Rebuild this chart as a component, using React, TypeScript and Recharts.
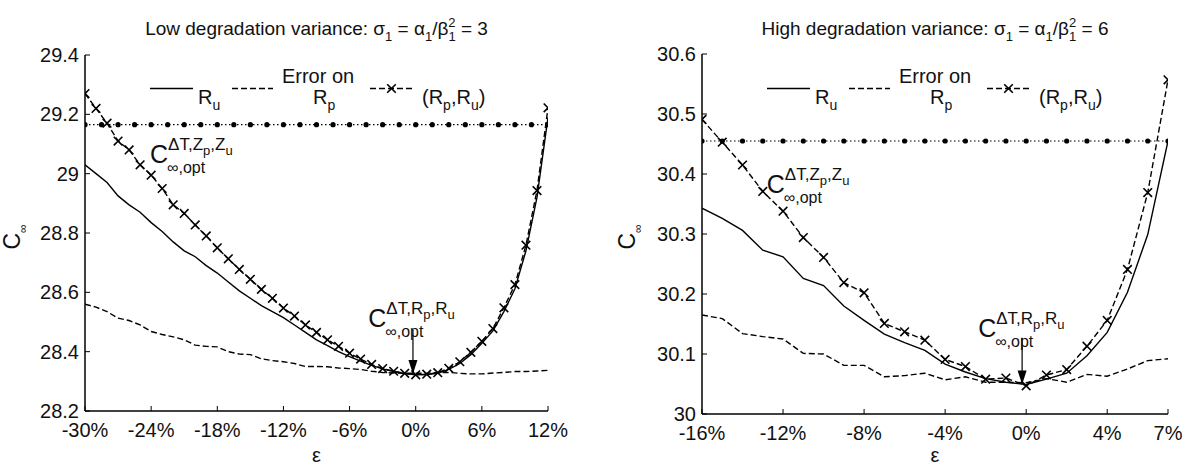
import React from "react";
import { LineChart, Line, XAxis, YAxis, ReferenceLine, ReferenceDot } from "recharts";

const FONT = '"Liberation Sans", Arial, Helvetica, sans-serif';
const INK = "#000";
const TICK_LEN = 5;
const GAP = 8; // tickMargin used by every axis; custom ticks undo it to find the axis line

// ε grid (%) and C∞ values, σ1 = 3
const LOW_EPS = [-30, -29, -28, -27, -26, -25, -24, -23, -22, -21, -20, -19, -18, -17, -16, -15, -14, -13, -12, -11, -10, -9, -8, -7, -6, -5, -4, -3, -2, -1, 0, 1, 2, 3, 4, 5, 6, 7, 8, 9, 10, 11, 12];
const LOW_RU = [29.03, 29.0, 28.97, 28.925, 28.895, 28.87, 28.835, 28.805, 28.77, 28.74, 28.72, 28.69, 28.665, 28.635, 28.605, 28.58, 28.555, 28.535, 28.515, 28.49, 28.465, 28.44, 28.42, 28.4, 28.383, 28.368, 28.354, 28.342, 28.333, 28.326, 28.322, 28.323, 28.327, 28.34, 28.36, 28.39, 28.428, 28.47, 28.535, 28.612, 28.74, 28.92, 29.19];
const LOW_RP = [28.56, 28.55, 28.535, 28.513, 28.505, 28.49, 28.468, 28.458, 28.45, 28.44, 28.422, 28.418, 28.416, 28.4, 28.392, 28.39, 28.376, 28.37, 28.366, 28.36, 28.35, 28.35, 28.349, 28.345, 28.343, 28.34, 28.334, 28.33, 28.328, 28.327, 28.327, 28.327, 28.33, 28.33, 28.327, 28.325, 28.325, 28.328, 28.33, 28.333, 28.333, 28.335, 28.337];
const LOW_BOTH = [29.27, 29.22, 29.17, 29.11, 29.08, 29.03, 28.995, 28.95, 28.895, 28.866, 28.827, 28.79, 28.75, 28.713, 28.677, 28.644, 28.61, 28.58, 28.547, 28.52, 28.49, 28.465, 28.44, 28.418, 28.395, 28.375, 28.357, 28.343, 28.334, 28.327, 28.322, 28.324, 28.329, 28.344, 28.366, 28.398, 28.435, 28.478, 28.548, 28.626, 28.759, 28.943, 29.222];
const LOW_REF_EPS = [-30, -28.5, -27, -25.5, -24, -22.5, -21, -19.5, -18, -16.5, -15, -13.5, -12, -10.5, -9, -7.5, -6, -4.5, -3, -1.5, 0, 1.5, 3, 4.5, 6, 7.5, 9, 10.5, 12];
const LOW_REF = 29.165;
const LOW_X_TICKS = [-30, -24, -18, -12, -6, 0, 6, 12];
const LOW_Y_TICKS = [28.2, 28.4, 28.6, 28.8, 29, 29.2, 29.4];

// ε grid (%) and C∞ values, σ1 = 6
const HIGH_EPS = [-16, -15, -14, -13, -12, -11, -10, -9, -8, -7, -6, -5, -4, -3, -2, -1, 0, 1, 2, 3, 4, 5, 6, 7];
const HIGH_RU = [30.343, 30.326, 30.306, 30.273, 30.262, 30.226, 30.214, 30.18, 30.156, 30.133, 30.119, 30.106, 30.083, 30.07, 30.059, 30.053, 30.049, 30.058, 30.068, 30.097, 30.136, 30.203, 30.299, 30.455];
const HIGH_RP = [30.165, 30.159, 30.134, 30.129, 30.125, 30.101, 30.1, 30.081, 30.081, 30.062, 30.064, 30.068, 30.057, 30.062, 30.053, 30.053, 30.052, 30.059, 30.053, 30.066, 30.063, 30.075, 30.089, 30.092];
const HIGH_BOTH = [30.491, 30.453, 30.415, 30.371, 30.338, 30.294, 30.261, 30.219, 30.202, 30.151, 30.137, 30.123, 30.091, 30.079, 30.058, 30.06, 30.047, 30.065, 30.074, 30.113, 30.156, 30.241, 30.369, 30.557];
const HIGH_REF_EPS = HIGH_EPS;
const HIGH_REF = 30.455;
const HIGH_X_TICKS = [-16, -12, -8, -4, 0, 4, 7];
const HIGH_Y_TICKS = [30, 30.1, 30.2, 30.3, 30.4, 30.5, 30.6];

type Pt = { x: number; y: number };
const zip = (xs: number[], ys: number[]): Pt[] => xs.map((x, i) => ({ x, y: ys[i] }));
const flat = (xs: number[], y: number): Pt[] => xs.map((x) => ({ x, y }));

const fmtY = (v: number) => String(Number(v.toFixed(1)));
const fmtX = (v: number) => `${v}%`;

function BottomTick(p: any) {
  const axisY = p.y - GAP;
  return (
    <g>
      <line x1={p.x} x2={p.x} y1={axisY} y2={axisY - TICK_LEN} stroke={INK} strokeWidth={1} />
      <text x={p.x} y={axisY + 26} textAnchor="middle" fontSize={20} fontFamily={FONT} fill="#111">
        {fmtX(p.payload.value)}
      </text>
    </g>
  );
}

function TopTick(p: any) {
  const axisY = p.y + GAP;
  return <line x1={p.x} x2={p.x} y1={axisY} y2={axisY + TICK_LEN} stroke={INK} strokeWidth={1} />;
}

function LeftTick(p: any) {
  const axisX = p.x + GAP;
  return (
    <g>
      <line x1={axisX} x2={axisX + TICK_LEN} y1={p.y} y2={p.y} stroke={INK} strokeWidth={1} />
      <text x={axisX - 6} y={p.y + 7} textAnchor="end" fontSize={20} fontFamily={FONT} fill="#111">
        {fmtY(p.payload.value)}
      </text>
    </g>
  );
}

function RightTick(p: any) {
  const axisX = p.x - GAP;
  return <line x1={axisX} x2={axisX - TICK_LEN} y1={p.y} y2={p.y} stroke={INK} strokeWidth={1} />;
}

function Cross({ cx, cy }: { cx?: number; cy?: number }) {
  if (cx == null || cy == null) return null;
  const s = 4.3;
  return (
    <path
      d={`M${cx - s},${cy - s}L${cx + s},${cy + s}M${cx - s},${cy + s}L${cx + s},${cy - s}`}
      stroke={INK}
      strokeWidth={1.6}
      fill="none"
    />
  );
}

// C^{ΔT,X_p,X_u}_{∞,opt}, baseline-left at (cx, cy)
function OptLabel({ cx, cy, v }: { cx: number; cy: number; v: string }) {
  return (
    <g fontFamily={FONT} fill="#111">
      <text x={cx} y={cy} fontSize={25}>C</text>
      <text x={cx + 18} y={cy - 13} fontSize={17}>
        ΔT,{v}
        <tspan dy={5} fontSize={13}>p</tspan>
        <tspan dy={-5}>,{v}</tspan>
        <tspan dy={5} fontSize={13}>u</tspan>
      </text>
      <text x={cx + 17} y={cy + 10} fontSize={16}>∞,opt</text>
    </g>
  );
}

function ArrowHead({ cx, cy }: { cx?: number; cy?: number }) {
  if (cx == null || cy == null) return <g />;
  return <path d={`M${cx},${cy}L${cx - 4.5},${cy - 14}L${cx + 4.5},${cy - 14}Z`} fill={INK} />;
}

type PanelProps = {
  left: number;
  width: number;
  margin: { top: number; right: number; bottom: number; left: number };
  xDomain: [number, number];
  xTicks: number[];
  yDomain: [number, number];
  yTicks: number[];
  ru: Pt[];
  rp: Pt[];
  both: Pt[];
  ref: Pt[];
  zAt: Pt;
  rAt: Pt;
  arrow: { x: number; from: number; to: number };
};

function Panel(props: PanelProps) {
  const { xDomain, xTicks, yDomain, yTicks } = props;
  const axisLine = { stroke: INK, strokeWidth: 1.5 };
  return (
    <div style={{ position: "absolute", left: props.left, top: 0 }}>
      <LineChart width={props.width} height={469} margin={props.margin}>
        <XAxis type="number" dataKey="x" domain={xDomain} ticks={xTicks} interval={0} allowDataOverflow
          height={40} tickSize={0} tickMargin={GAP} axisLine={axisLine} tick={BottomTick} />
        <XAxis xAxisId="top" orientation="top" type="number" dataKey="x" domain={xDomain} ticks={xTicks}
          interval={0} allowDataOverflow height={0} tickSize={0} tickMargin={GAP} axisLine={axisLine} tick={TopTick} />
        <YAxis type="number" domain={yDomain} ticks={yTicks} interval={0} allowDataOverflow
          width={60} tickSize={0} tickMargin={GAP} axisLine={axisLine} tick={LeftTick} />
        <YAxis yAxisId="right" orientation="right" type="number" domain={yDomain} ticks={yTicks} interval={0}
          allowDataOverflow width={0} tickSize={0} tickMargin={GAP} axisLine={axisLine} tick={RightTick} />

        <Line data={props.ref} dataKey="y" type="linear" stroke={INK} strokeWidth={1.2}
          strokeDasharray="1.5 2.5" dot={{ r: 2.6, fill: INK, stroke: "none" }} activeDot={false}
          isAnimationActive={false} />
        <Line data={props.rp} dataKey="y" type="linear" stroke={INK} strokeWidth={1.4}
          strokeDasharray="6 3" dot={false} activeDot={false} isAnimationActive={false} />
        <Line data={props.ru} dataKey="y" type="linear" stroke={INK} strokeWidth={1.4}
          dot={false} activeDot={false} isAnimationActive={false} />
        <Line data={props.both} dataKey="y" type="linear" stroke={INK} strokeWidth={1.4}
          strokeDasharray="6 3" activeDot={false} isAnimationActive={false}
          dot={(p: any) => <Cross key={p.index} cx={p.cx} cy={p.cy} />} />

        <ReferenceDot x={props.zAt.x} y={props.zAt.y} r={0}
          shape={(p: any) => <OptLabel cx={p.cx} cy={p.cy} v="Z" />} />
        <ReferenceDot x={props.rAt.x} y={props.rAt.y} r={0}
          shape={(p: any) => <OptLabel cx={p.cx} cy={p.cy} v="R" />} />
        <ReferenceLine segment={[{ x: props.arrow.x, y: props.arrow.from }, { x: props.arrow.x, y: props.arrow.to }]}
          stroke={INK} strokeWidth={1.2} />
        <ReferenceDot x={props.arrow.x} y={props.arrow.to} r={0}
          shape={(p: any) => <ArrowHead cx={p.cx} cy={p.cy} />} />
      </LineChart>
    </div>
  );
}

// Horizontal legend with its "Error on" caption, placed inside the axes box
function LegendRow({ x }: { x: number }) {
  const y = 88.5;
  return (
    <g transform={`translate(${x},0)`} fontFamily={FONT} fill="#111">
      <line x1={0} x2={43} y1={y} y2={y} stroke={INK} strokeWidth={1.4} />
      <text x={48} y={104} fontSize={20}>R<tspan dy={6} fontSize={14}>u</tspan></text>
      <line x1={82} x2={123} y1={y} y2={y} stroke={INK} strokeWidth={1.4} strokeDasharray="6 3" />
      <text x={168} y={83} fontSize={20} textAnchor="middle">Error on</text>
      <text x={163} y={104} fontSize={20}>R<tspan dy={6} fontSize={14}>p</tspan></text>
      <line x1={220} x2={263} y1={y} y2={y} stroke={INK} strokeWidth={1.4} strokeDasharray="6 3" />
      <Cross cx={241.5} cy={y} />
      <text x={272} y={104} fontSize={20}>
        (R<tspan dy={6} fontSize={14}>p</tspan>
        <tspan dy={-6}>,R</tspan>
        <tspan dy={6} fontSize={14}>u</tspan>
        <tspan dy={-6}>)</tspan>
      </text>
    </g>
  );
}

function Title({ cx, label, value }: { cx: number; label: string; value: string }) {
  return (
    <text x={cx} y={35} textAnchor="middle" fontSize={19} fontFamily={FONT} fill="#111">
      {label}: σ<tspan dy={6} fontSize={13}>1</tspan>
      <tspan dy={-6}> = α</tspan>
      <tspan dy={6} fontSize={13}>1</tspan>
      <tspan dy={-6}>/β</tspan>
      <tspan dy={-8} fontSize={13}>2</tspan>
      <tspan dx={-7.2} dy={14} fontSize={13}>1</tspan>
      <tspan dy={-6}> = {value}</tspan>
    </text>
  );
}

function YLabel({ x, y }: { x: number; y: number }) {
  return (
    <text x={x} y={y} transform={`rotate(-90 ${x} ${y})`} textAnchor="middle" fontSize={23}
      fontFamily={FONT} fill="#111">
      C<tspan dy={7} fontSize={12}>∞</tspan>
    </text>
  );
}

const LOW_PLOT = { left: 85, right: 548, top: 55, bottom: 411 };
const HIGH_PLOT = { left: 702, right: 1168, top: 54, bottom: 414 };

export default function App() {
  const lowCx = (LOW_PLOT.left + LOW_PLOT.right) / 2;
  const highCx = (HIGH_PLOT.left + HIGH_PLOT.right) / 2;
  return (
    <div style={{ position: "absolute", left: 0, top: 0, width: 1185, height: 469, background: "#fff", overflow: "hidden" }}>
      <Panel
        left={0}
        width={600}
        margin={{ top: LOW_PLOT.top, right: 600 - LOW_PLOT.right, bottom: 469 - LOW_PLOT.bottom - 40, left: LOW_PLOT.left - 60 }}
        xDomain={[-30, 12]}
        xTicks={LOW_X_TICKS}
        yDomain={[28.2, 29.4]}
        yTicks={LOW_Y_TICKS}
        ru={zip(LOW_EPS, LOW_RU)}
        rp={zip(LOW_EPS, LOW_RP)}
        both={zip(LOW_EPS, LOW_BOTH)}
        ref={flat(LOW_REF_EPS, LOW_REF)}
        zAt={{ x: -24.1, y: 29.036 }}
        rAt={{ x: -4.3, y: 28.483 }}
        arrow={{ x: -0.25, from: 28.475, to: 28.325 }}
      />
      <Panel
        left={600}
        width={585}
        margin={{ top: HIGH_PLOT.top, right: 1185 - HIGH_PLOT.right, bottom: 469 - HIGH_PLOT.bottom - 40, left: HIGH_PLOT.left - 600 - 60 }}
        xDomain={[-16, 7]}
        xTicks={HIGH_X_TICKS}
        yDomain={[30, 30.6]}
        yTicks={HIGH_Y_TICKS}
        ru={zip(HIGH_EPS, HIGH_RU)}
        rp={zip(HIGH_EPS, HIGH_RP)}
        both={zip(HIGH_EPS, HIGH_BOTH)}
        ref={flat(HIGH_REF_EPS, HIGH_REF)}
        zAt={{ x: -12.8, y: 30.368 }}
        rAt={{ x: -2.37, y: 30.128 }}
        arrow={{ x: -0.2, from: 30.127, to: 30.049 }}
      />
      <svg width={1185} height={469} style={{ position: "absolute", left: 0, top: 0, pointerEvents: "none" }}>
        <Title cx={lowCx} label="Low degradation variance" value="3" />
        <Title cx={highCx} label="High degradation variance" value="6" />
        <LegendRow x={LOW_PLOT.left + 65} />
        <LegendRow x={HIGH_PLOT.left + 65} />
        <YLabel x={20} y={237} />
        <YLabel x={HIGH_PLOT.left - 67} y={237} />
        <text x={lowCx} y={462} textAnchor="middle" fontSize={20} fontFamily={FONT} fill="#111">ε</text>
        <text x={highCx} y={462} textAnchor="middle" fontSize={20} fontFamily={FONT} fill="#111">ε</text>
      </svg>
    </div>
  );
}
